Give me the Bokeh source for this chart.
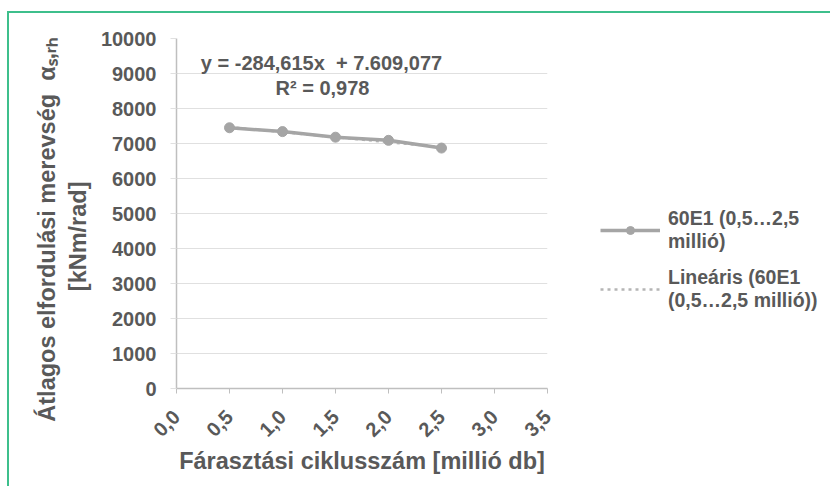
from math import pi

from bokeh.plotting import figure
from bokeh.models import FixedTicker, Label, Legend, LegendItem, Range1d
from bokeh.embed import file_html
from bokeh.resources import INLINE

# --- data -------------------------------------------------------------
cycles = [0.5, 1.0, 1.5, 2.0, 2.5]               # fatigue cycles [million]
stiffness = [7450, 7340, 7180, 7090, 6870]        # mean rotational stiffness [kNm/rad]

trend_slope = -284.615
trend_intercept = 7609.077
trend_r2 = 0.978

x_ticks = [0.0, 0.5, 1.0, 1.5, 2.0, 2.5, 3.0, 3.5]
x_tick_labels = ["0,0", "0,5", "1,0", "1,5", "2,0", "2,5", "3,0", "3,5"]
y_ticks = [0, 1000, 2000, 3000, 4000, 5000, 6000, 7000, 8000, 9000, 10000]

NB = "\u00a0"
series_name = "60E1 (0,5…2,5\nmillió)"
trend_name = "Lineáris (60E1\n(0,5…2,5 millió))"
equation_text = f"y = -284,615x{NB}{NB}+ 7.609,077"
r2_text = "R² = 0,978"
x_title = "Fárasztási ciklusszám [millió db]"
# trailing no-break spaces push both lines a little towards the origin
y_title = (f"Átlagos elfordulási merevség{NB}{NB}α\u209b,\u1d63\u2095" + NB * 5
           + "\n[kNm/rad]" + NB * 7)

# --- styling ----------------------------------------------------------
FONT = "Liberation Sans"
TEXT = "#595959"
LINE = "#a5a5a5"
TREND = "#b5b5b5"
GRID = "#e0e0e0"
AXIS = "#bfbfbf"
GREEN = "#3dbf8c"

# frame placement on the canvas (pixels)
W, H = 830, 486
FL, FR, FT, FB = 176, 547, 38, 388

p = figure(frame_width=FR - FL, frame_height=FB - FT,
           output_backend="svg", toolbar_location=None,
           x_range=Range1d(0, 3.5), y_range=Range1d(0, 10000),
           min_border_left=FL, min_border_right=W - FR,
           min_border_top=FT, min_border_bottom=H - FB)
# green top and left rules of the panel, painted behind a transparent border area
p.styles = {
    "background-color": "white",
    "background-image": f"linear-gradient({GREEN}, {GREEN}), linear-gradient({GREEN}, {GREEN})",
    "background-size": "100% 2px, 2px 100%",
    "background-position": "7px 11px, 7px 11px",
    "background-repeat": "no-repeat",
}
p.outline_line_color = None
p.background_fill_color = "white"
p.border_fill_alpha = 0

# axes
p.xaxis.ticker = FixedTicker(ticks=x_ticks)
p.xaxis.major_label_overrides = {t: s for t, s in zip(x_ticks, x_tick_labels)}
p.xaxis.major_label_orientation = pi / 4
p.yaxis.ticker = FixedTicker(ticks=y_ticks)
for ax in (p.xaxis[0], p.yaxis[0]):
    ax.axis_line_color = AXIS
    ax.axis_line_width = 1.5
    ax.major_tick_line_color = AXIS
    ax.minor_tick_line_color = None
    ax.major_label_text_font = FONT
    ax.major_label_text_font_style = "bold"
    ax.major_label_text_font_size = "20px"
    ax.major_label_text_color = TEXT
    ax.axis_label_text_font = FONT
    ax.axis_label_text_font_style = "bold"
    ax.axis_label_text_color = TEXT
p.xaxis.major_tick_in = 0
p.xaxis.major_tick_out = 5
p.xaxis.major_label_standoff = 20
p.xaxis.axis_label = x_title
p.xaxis.axis_label_text_font_size = "23.5px"
p.xaxis.axis_label_standoff = 2
p.yaxis.major_tick_in = 0
p.yaxis.major_tick_out = 6
p.yaxis.major_tick_line_color = GRID
p.yaxis.major_label_standoff = 14
p.yaxis.axis_label = y_title
p.yaxis.axis_label_text_font_size = "23.5px"
p.yaxis.axis_label_standoff = 7
p.yaxis.axis_label_text_line_height = 1.2

p.xgrid.grid_line_color = None
p.ygrid.grid_line_color = GRID
p.ygrid.grid_line_width = 1.2

# linear trend line (under the measured series)
tx = [cycles[0], cycles[-1]]
ty = [trend_intercept + trend_slope * x for x in tx]
r_trend = p.line(tx, ty, line_color=TREND, line_width=2.5, line_dash="3 4")

# measured series
r_line = p.line(cycles, stiffness, line_color=LINE, line_width=3.5)
r_pts = p.scatter(cycles, stiffness, size=10, fill_color=LINE, line_color=LINE)

# legend in the right-hand panel
legend = Legend(items=[LegendItem(label=series_name, renderers=[r_line, r_pts]),
                       LegendItem(label=trend_name, renderers=[r_trend])],
                location=(600 - FR, FB - 312))
legend.label_text_font = FONT
legend.label_text_font_style = "bold"
legend.label_text_font_size = "19.5px"
legend.label_text_color = TEXT
legend.label_text_line_height = 1.3
legend.glyph_width = 60
legend.glyph_height = 20
legend.label_standoff = 8
legend.spacing = 13
legend.padding = 0
legend.margin = 0
legend.border_line_color = None
legend.background_fill_alpha = 0
p.add_layout(legend, "right")


def lab(text, cx, cy, size="20px"):
    """Bold centred text placed by canvas pixel position (origin top-left)."""
    p.add_layout(Label(x=cx - FL, y=FB - cy, x_units="screen", y_units="screen",
                       text=text, text_font=FONT, text_font_style="bold",
                       text_font_size=size, text_color=TEXT, text_align="center",
                       text_baseline="middle"))


# regression equation inside the plot area
lab(equation_text, 321, 62)
lab(r2_text, 322, 87)

open("out.html", "w").write(file_html(p, INLINE))
